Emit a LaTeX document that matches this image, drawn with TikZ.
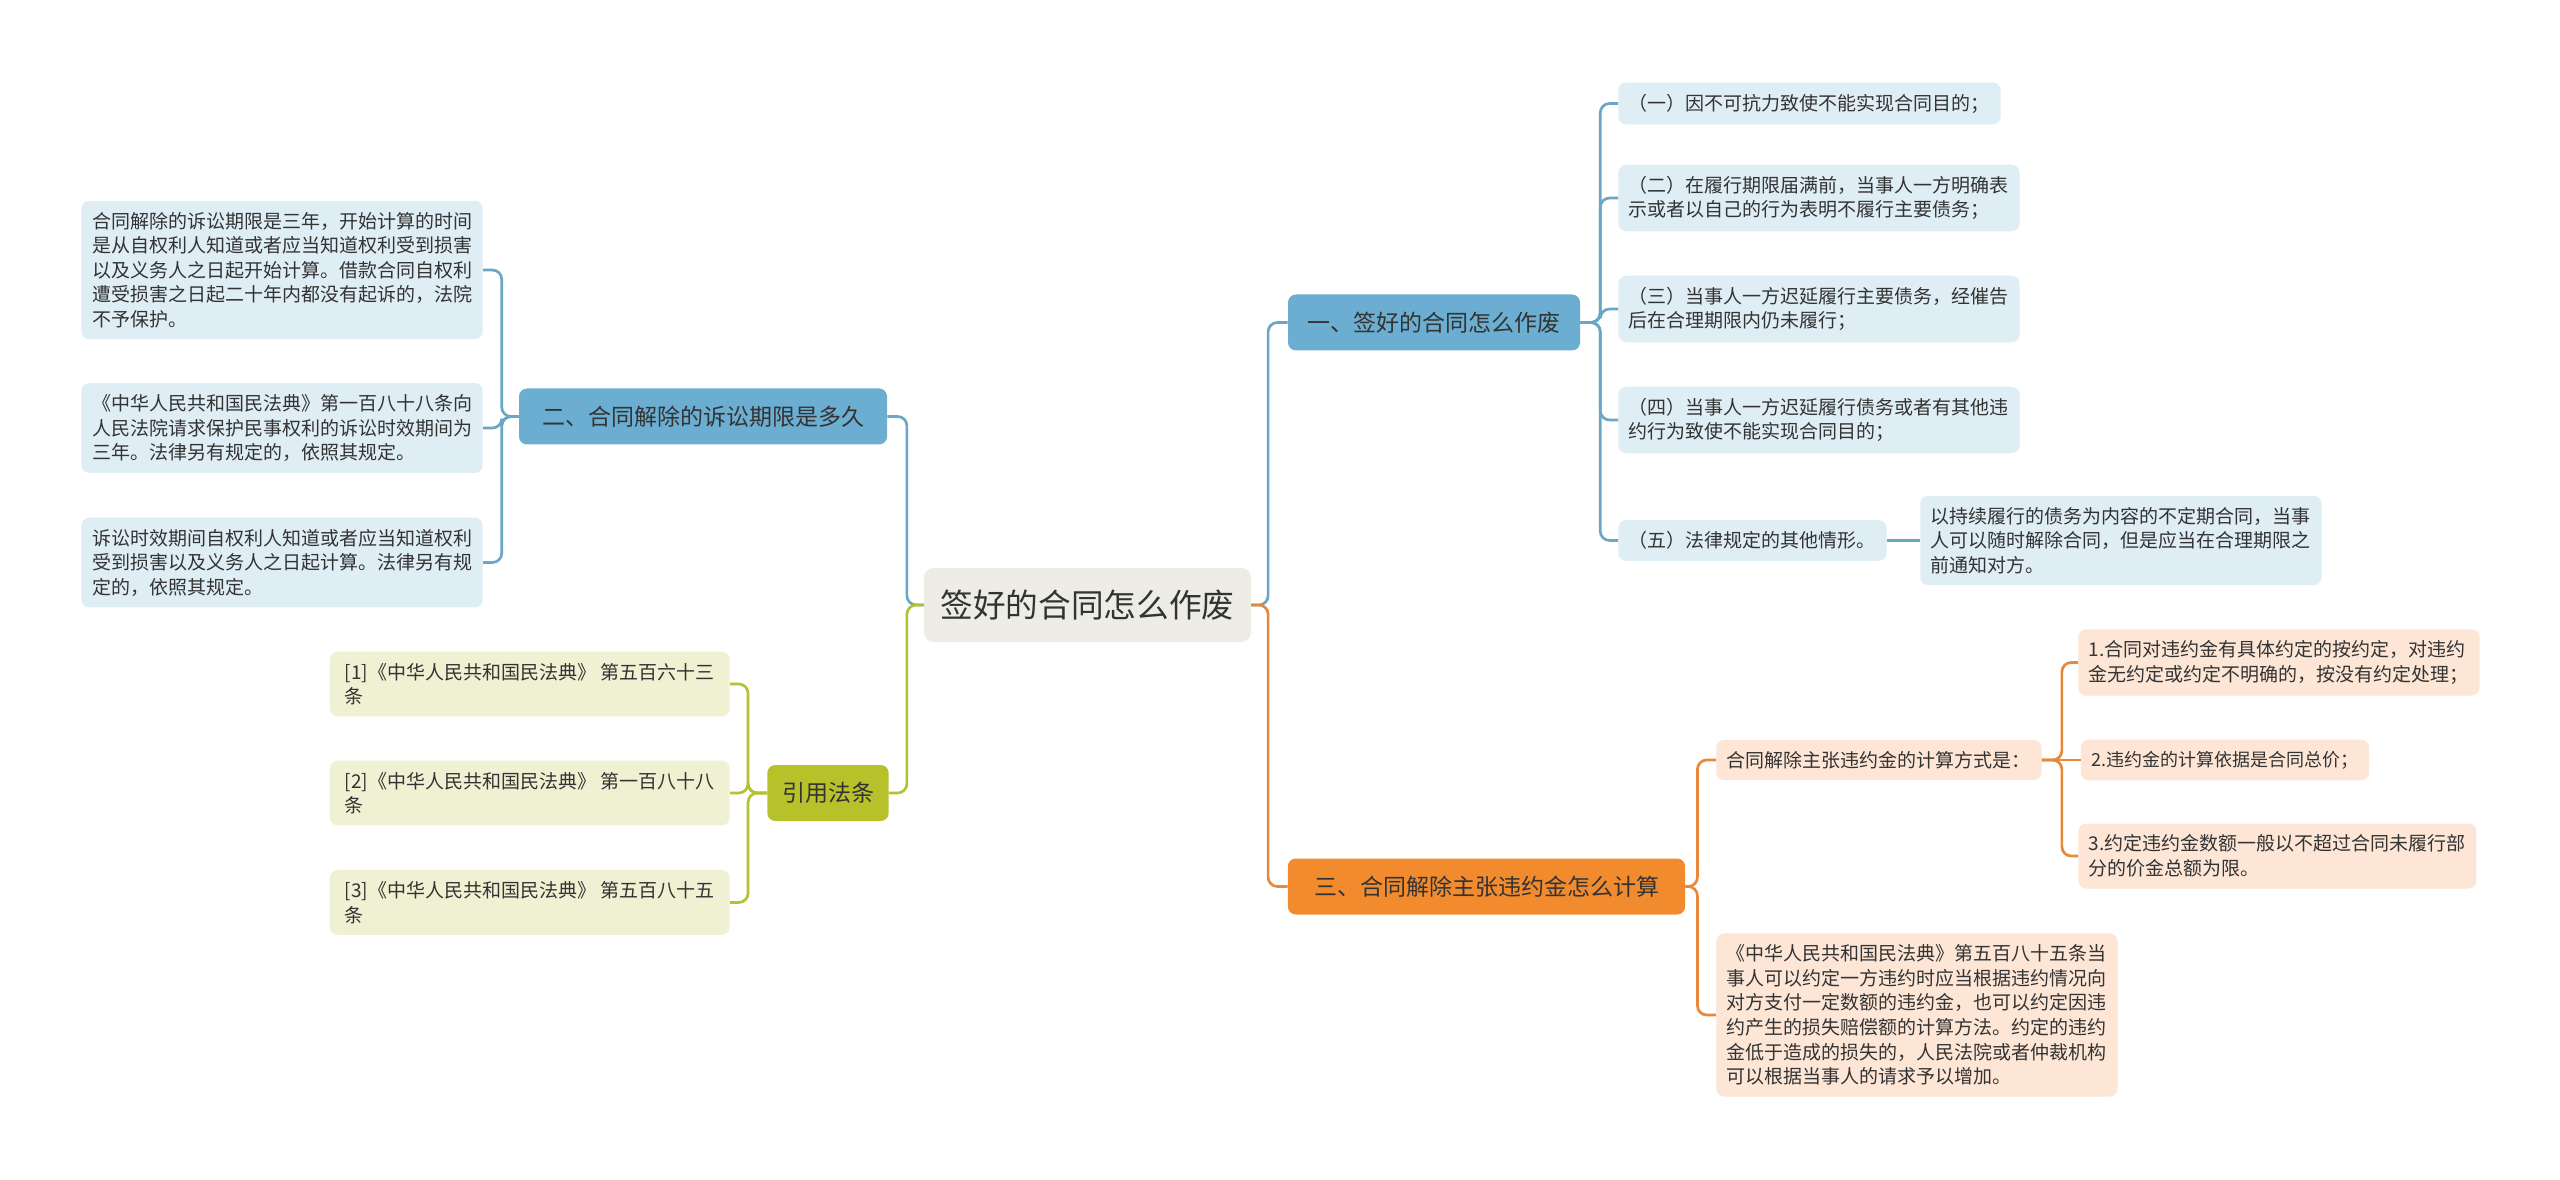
\documentclass[tikz,border=0pt]{standalone}
\usepackage{fontspec}
\setmainfont{Noto Sans CJK SC}
\usepackage{tikz}
\usetikzlibrary{positioning}

\definecolor{inktext}{HTML}{333333}
\definecolor{rootfill}{HTML}{EDEDE5}
\definecolor{bluefill}{HTML}{6BAED1}
\definecolor{blueline}{HTML}{6AA6C6}
\definecolor{blueleaf}{HTML}{DFEDF5}
\definecolor{olivefill}{HTML}{B7C22A}
\definecolor{oliveline}{HTML}{B4C232}
\definecolor{oliveleaf}{HTML}{F0F1D3}
\definecolor{orangefill}{HTML}{F28B2E}
\definecolor{orangeline}{HTML}{E8883A}
\definecolor{orangeleaf}{HTML}{FDE6D6}

\begin{document}
\begin{tikzpicture}[
    x=0.75pt, y=-0.75pt,
    base/.style={text=inktext, inner ysep=8.5pt},
    root/.style={base, fill=rootfill, rounded corners=7pt, minimum height=55.5pt, minimum width=245pt, font=\fontsize{24.5}{30}\selectfont},
    topic/.style={base, rounded corners=6pt, minimum height=42pt, font=\fontsize{17.25}{22}\selectfont},
    leaf/.style={base, rounded corners=6pt, inner xsep=8pt, align=left, font=\fontsize{14.25}{18.4}\selectfont},
    bleaf/.style={leaf, fill=blueleaf},
    oleaf/.style={leaf, fill=oliveleaf, minimum width=300pt},
    rleaf/.style={leaf, fill=orangeleaf},
    link/.style={line width=2pt, rounded corners=7pt},
    blink/.style={link, draw=blueline},
    olink/.style={link, draw=oliveline},
    rlink/.style={link, draw=orangeline}
]
    \useasboundingbox[fill=white] (0,0) rectangle (2560,1180);

    \node[root] (root) at (1087.5,605) {签好的合同怎么作废};

    \node[topic, fill=bluefill, minimum width=219pt] (why) at (1434,322.5) {一、签好的合同怎么作废};
    \node[topic, fill=bluefill, minimum width=276pt] (term) at (703,416.5) {二、合同解除的诉讼期限是多久};
    \node[topic, fill=olivefill, minimum width=91pt] (refs) at (828,793) {引用法条};
    \node[topic, fill=orangefill, minimum width=298pt] (calc) at (1486.5,886.5) {三、合同解除主张违约金怎么计算};

    % 一
    \node[bleaf, anchor=west] (why1) at (1618,103.5) {（一）因不可抗力致使不能实现合同目的；};
    \node[bleaf, anchor=west] (why2) at (1618,198) {（二）在履行期限届满前，当事人一方明确表\\示或者以自己的行为表明不履行主要债务；};
    \node[bleaf, anchor=west] (why3) at (1618,309) {（三）当事人一方迟延履行主要债务，经催告\\后在合理期限内仍未履行；};
    \node[bleaf, anchor=west] (why4) at (1618,420) {（四）当事人一方迟延履行债务或者有其他违\\约行为致使不能实现合同目的；};
    \node[bleaf, anchor=west] (why5) at (1618,540.5) {（五）法律规定的其他情形。};
    \node[bleaf, anchor=west] (why5a) at (1920,540.5) {以持续履行的债务为内容的不定期合同，当事\\人可以随时解除合同，但是应当在合理期限之\\前通知对方。};

    % 二
    \node[bleaf, anchor=east] (term1) at (483,270) {合同解除的诉讼期限是三年，开始计算的时间\\是从自权利人知道或者应当知道权利受到损害\\以及义务人之日起开始计算。借款合同自权利\\遭受损害之日起二十年内都没有起诉的，法院\\不予保护。};
    \node[bleaf, anchor=east] (term2) at (483,428) {《中华人民共和国民法典》第一百八十八条向\\人民法院请求保护民事权利的诉讼时效期间为\\三年。法律另有规定的，依照其规定。};
    \node[bleaf, anchor=east] (term3) at (483,562.5) {诉讼时效期间自权利人知道或者应当知道权利\\受到损害以及义务人之日起计算。法律另有规\\定的，依照其规定。};

    % 引用法条
    \node[oleaf, anchor=east] (ref1) at (730,684) {[1]《中华人民共和国民法典》 第五百六十三\\条};
    \node[oleaf, anchor=east] (ref2) at (730,793) {[2]《中华人民共和国民法典》 第一百八十八\\条};
    \node[oleaf, anchor=east] (ref3) at (730,902.5) {[3]《中华人民共和国民法典》 第五百八十五\\条};

    % 三
    \node[rleaf, anchor=west] (way) at (1716,760) {合同解除主张违约金的计算方式是：};
    \node[rleaf, anchor=west] (way1) at (2078,662.5) {1.合同对违约金有具体约定的按约定，对违约\\金无约定或约定不明确的，按没有约定处理；};
    \node[rleaf, right=29pt of way, font=\fontsize{13.5}{18.4}\selectfont] (way2) {2.违约金的计算依据是合同总价；};
    \node[rleaf, anchor=west] (way3) at (2078,856) {3.约定违约金数额一般以不超过合同未履行部\\分的价金总额为限。};
    \node[rleaf, anchor=west] (law) at (1716,1015) {《中华人民共和国民法典》第五百八十五条当\\事人可以约定一方违约时应当根据违约情况向\\对方支付一定数额的违约金，也可以约定因违\\约产生的损失赔偿额的计算方法。约定的违约\\金低于造成的损失的，人民法院或者仲裁机构\\可以根据当事人的请求予以增加。};

    \draw[blink] (root.east) -- ++(17,0) |- (why.west);
    \draw[rlink] (root.east) -- ++(17,0) |- (calc.west);
    \draw[blink] (root.west) -- ++(-17,0) |- (term.east);
    \draw[olink] (root.west) -- ++(-17,0) |- (refs.east);

    \draw[blink] (why.east) -- ++(20,0) |- (why1.west);
    \draw[blink] (why.east) -- ++(20,0) |- (why2.west);
    \draw[blink] (why.east) -- ++(20,0) |- (why3.west);
    \draw[blink] (why.east) -- ++(20,0) |- (why4.west);
    \draw[blink] (why.east) -- ++(20,0) |- (why5.west);
    \draw[blink] (why5) -- (why5a);

    \draw[blink] (term.west) -- ++(-17,0) |- (term1.east);
    \draw[blink] (term.west) -- ++(-17,0) |- (term2.east);
    \draw[blink] (term.west) -- ++(-17,0) |- (term3.east);

    \draw[olink] (refs.west) -- ++(-19,0) |- (ref1.east);
    \draw[olink] (refs.west) -- ++(-19,0) |- (ref2.east);
    \draw[olink] (refs.west) -- ++(-19,0) |- (ref3.east);

    \draw[rlink] (calc.east) -- ++(12,0) |- (way.west);
    \draw[rlink] (calc.east) -- ++(12,0) |- (law.west);
    \draw[rlink] (way.east) -- ++(20,0) |- (way1.west);
    \draw[rlink] (way) -- (way2);
    \draw[rlink] (way.east) -- ++(20,0) |- (way3.west);
\end{tikzpicture}
\end{document}
